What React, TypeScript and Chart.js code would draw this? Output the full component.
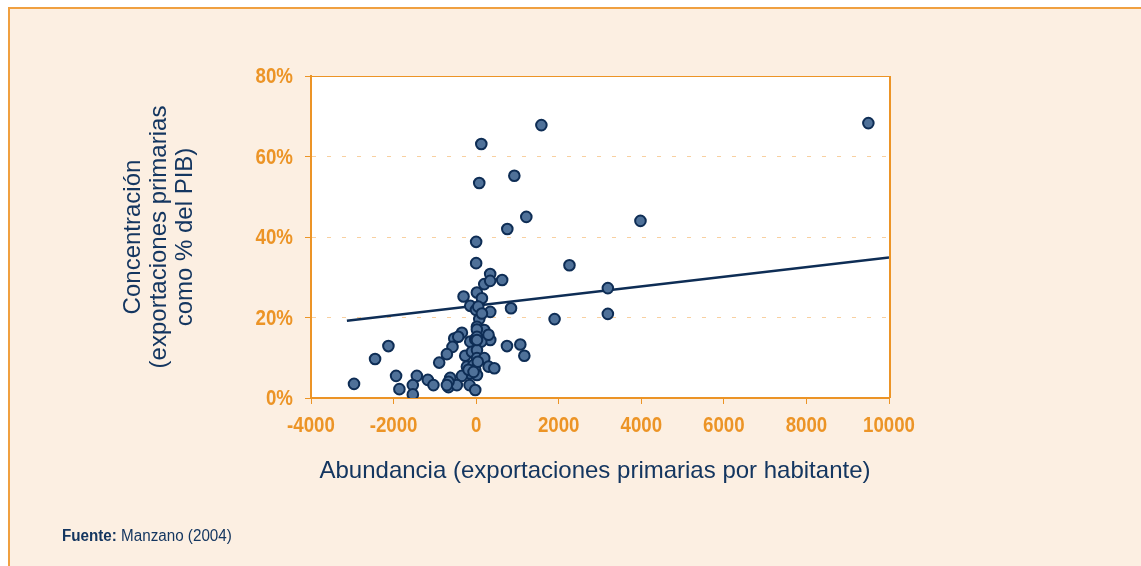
import React, { useEffect, useRef } from "react";
import { Chart, registerables } from "chart.js";

Chart.register(...registerables);

const abundancia = [
  9500, 3980, 3190, 3190, 2260, 1900, 1580, 1215, 925, 755,
  125, 75, 0, 0, 340, 630, 196, 340, -305, 18,
  140, -143, -5, 342, 845, 75, 18, 196, 18, -345,
  -531, 342, 124, -143, -22, -573, -709, -265, -102, 20,
  20, 196, 747, 1070, 1167, -895, -224, -63, 301, 440,
  -22, -143, 20, -345, -628, -1170, -1034, -1436, -1534, -1534,
  -1939, -1859, -2448, -2125, -2958, -670, -466, -160, -22, 50,
  140, 300, 20, -185, -63, -670, -709, 20, -434, 40,
];
const concentracion = [
  68.3, 44.0, 27.3, 20.9, 33.0, 19.6, 67.8, 45.0, 55.2, 42.0,
  63.1, 53.4, 38.8, 33.5, 30.8, 29.3, 28.3, 29.1, 25.2, 26.2,
  24.8, 22.9, 21.9, 21.4, 22.3, 19.6, 17.7, 16.9, 17.0, 16.2,
  14.8, 14.4, 14.0, 14.0, 14.6, 12.7, 10.9, 10.5, 11.5, 11.9,
  9.9, 9.9, 12.9, 13.3, 10.5, 8.8, 7.8, 8.2, 7.8, 7.4,
  7.0, 6.1, 5.7, 5.5, 5.0, 4.5, 3.2, 5.5, 3.2, 0.9,
  5.5, 2.2, 9.7, 12.9, 3.5, 2.7, 3.2, 3.2, 2.0, 22.7,
  21.0, 15.7, 15.2, 7.0, 6.5, 4.0, 3.2, 14.4, 15.2, 9.0,
];
const trendX = [-3130, 10000];
const trendY = [19.2, 34.9];

const xTickValues = [-4000, -2000, 0, 2000, 4000, 6000, 8000, 10000];
const yTickValues = [0, 20, 40, 60, 80];

const xTitle = "Abundancia (exportaciones primarias por habitante)";
const yTitleLines = ["Concentración", "(exportaciones primarias", "como % del PIB)"];

const ORANGE = "#EC9426";
const NAVY = "#143660";
const SANS = '"Liberation Sans", Arial, sans-serif';

export default function App() {
  const ref = useRef<HTMLCanvasElement | null>(null);

  useEffect(() => {
    if (!ref.current) return;
    const points = abundancia.map((x, i) => ({ x, y: concentracion[i] }));
    const trend = trendX.map((x, i) => ({ x, y: trendY[i] }));

    const decor = {
      id: "decor",
      beforeDraw(chart: any) {
        const { ctx, chartArea } = chart;
        ctx.save();
        ctx.fillStyle = "#FFFFFF";
        ctx.fillRect(chartArea.left, chartArea.top, chartArea.right - chartArea.left, chartArea.bottom - chartArea.top);
        ctx.restore();
      },
      afterDatasetsDraw(chart: any) {
        const { ctx, chartArea } = chart;
        ctx.save();
        ctx.strokeStyle = ORANGE;
        ctx.lineWidth = 1;
        ctx.beginPath();
        ctx.moveTo(chartArea.left, chartArea.top + 0.5);
        ctx.lineTo(chartArea.right, chartArea.top + 0.5);
        ctx.stroke();
        ctx.lineWidth = 2;
        ctx.beginPath();
        ctx.moveTo(chartArea.right + 1, chartArea.top);
        ctx.lineTo(chartArea.right + 1, chartArea.bottom);
        ctx.stroke();
        ctx.restore();
      },
      afterDraw(chart: any) {
        const { ctx } = chart;
        const xs = chart.scales.x;
        const ys = chart.scales.y;
        ctx.save();
        // tick labels (narrow bold)
        ctx.fillStyle = ORANGE;
        ctx.font = "bold 22px " + SANS;
        ctx.textBaseline = "middle";
        ctx.textAlign = "center";
        xTickValues.forEach((v) => {
          ctx.save();
          ctx.translate(xs.getPixelForValue(v), 426);
          ctx.scale(0.85, 1);
          ctx.fillText(String(v), 0, 0);
          ctx.restore();
        });
        ctx.textAlign = "right";
        yTickValues.forEach((v) => {
          ctx.save();
          ctx.translate(293, ys.getPixelForValue(v) + 1);
          ctx.scale(0.85, 1);
          ctx.fillText(v + "%", 0, 0);
          ctx.restore();
        });
        // axis titles
        ctx.fillStyle = NAVY;
        ctx.font = "24px " + SANS;
        ctx.textAlign = "center";
        ctx.fillText(xTitle, 595, 471);
        const lx = [133, 159, 185];
        yTitleLines.forEach((line, i) => {
          ctx.save();
          ctx.translate(lx[i], 237);
          ctx.rotate(-Math.PI / 2);
          ctx.fillText(line, 0, 0);
          ctx.restore();
        });
        ctx.restore();
      },
    };

    const chart = new Chart(ref.current, {
      type: "scatter",
      data: {
        datasets: [
          {
            type: "line",
            data: trend,
            borderColor: "#0E2D55",
            borderWidth: 2.5,
            pointRadius: 0,
            fill: false,
            order: 2,
          } as any,
          {
            data: points,
            backgroundColor: "#4F7199",
            borderColor: "#0E2D55",
            borderWidth: 2,
            pointRadius: 5.3,
            order: 1,
          },
        ],
      },
      options: {
        responsive: false,
        animation: false,
        layout: { padding: { top: 76, right: 252, left: 0, bottom: 0 } },
        plugins: { legend: { display: false }, tooltip: { enabled: false } },
        scales: {
          x: {
            type: "linear",
            min: -4000,
            max: 10000,
            afterFit: (s: any) => { s.height = 168; },
            ticks: { stepSize: 2000, display: false },
            grid: { drawOnChartArea: false, drawTicks: true, tickLength: 6, tickColor: ORANGE, color: ORANGE },
            border: { color: ORANGE, width: 2 },
          },
          y: {
            min: 0,
            max: 80,
            afterFit: (s: any) => { s.width = 311; },
            ticks: { stepSize: 20, display: false },
            grid: {
              color: (c: any) => (c.tick && (c.tick.value === 0 || c.tick.value === 80) ? "rgba(0,0,0,0)" : "#F8D0A0"),
              tickColor: ORANGE,
              tickLength: 6,
              tickBorderDash: [],
            },
            border: { color: ORANGE, width: 2, dash: [4, 11] },
          },
        },
      },
      plugins: [decor],
    });
    return () => chart.destroy();
  }, []);

  return (
    <div style={{ position: "fixed", left: 0, top: 0, width: 1141, height: 566, overflow: "hidden", background: "#FFFFFF" }}>
      <div
        style={{
          position: "absolute",
          left: 8,
          top: 7,
          right: 0,
          bottom: 0,
          background: "#FCEFE2",
          borderLeft: "2px solid #F0A040",
          borderTop: "2px solid #F0A040",
        }}
      />
      <canvas ref={ref} width={1141} height={566} style={{ position: "absolute", left: 0, top: 0, width: 1141, height: 566 }} />
      <div
        style={{
          position: "absolute",
          left: 62,
          top: 526,
          fontFamily: SANS,
          fontSize: 16,
          color: NAVY,
          lineHeight: "20px",
          whiteSpace: "nowrap",
          transform: "scaleX(0.95)",
          transformOrigin: "left center",
        }}
      >
        <b>Fuente:</b> Manzano (2004)
      </div>
    </div>
  );
}
